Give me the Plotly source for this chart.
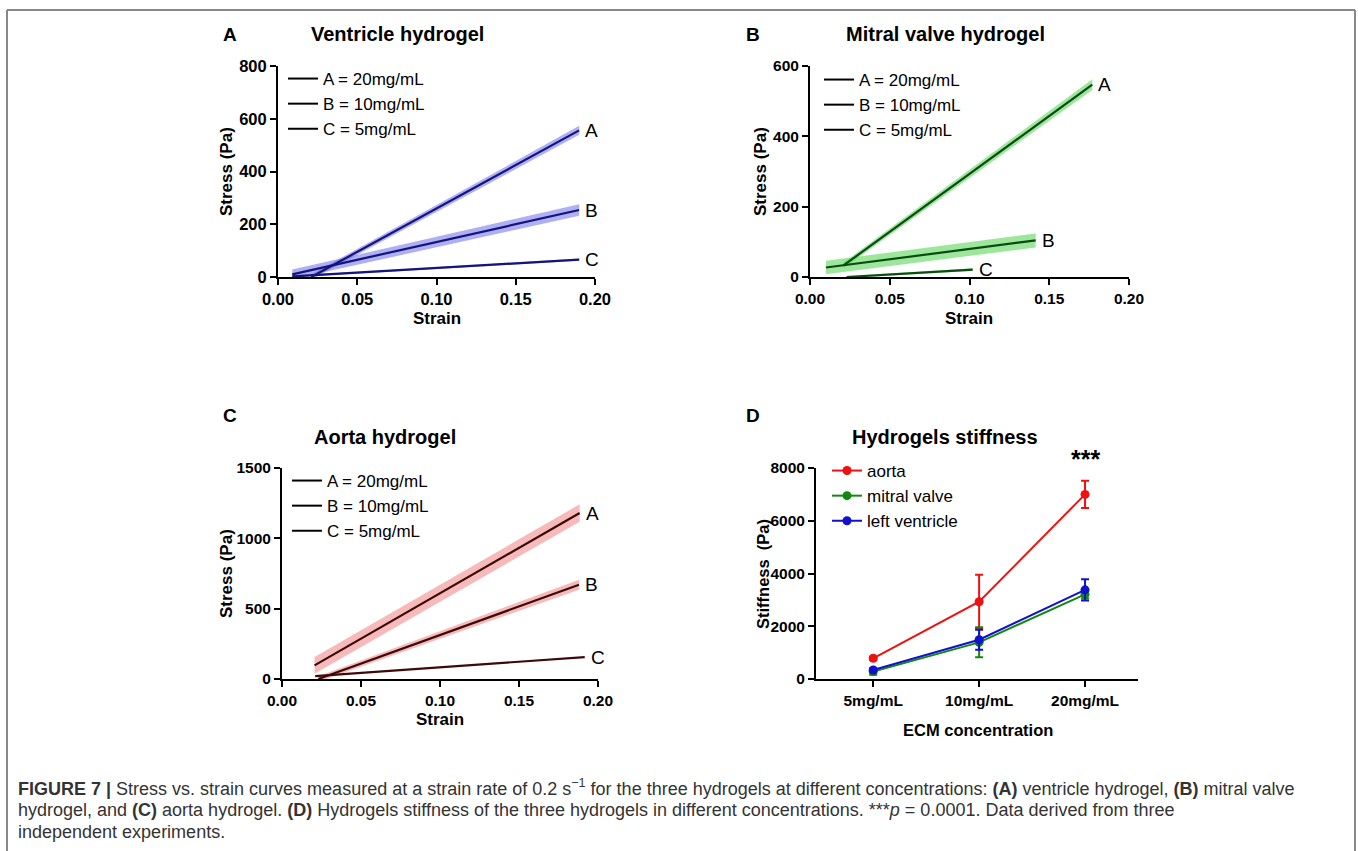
import plotly.graph_objects as go

W, H = 1358, 851


def px(x):
    return x / W


def py(y):
    return 1 - y / H


# ---------------- data ----------------
strain_tickvals = [0, 0.05, 0.10, 0.15, 0.20]
strain_ticktext = ["0.00", "0.05", "0.10", "0.15", "0.20"]
curve_ids = ["A", "B", "C"]
conc_labels = ["A = 20mg/mL", "B = 10mg/mL", "C = 5mg/mL"]

# Ventricle hydrogel (linear fits: start/end strain, start/end stress, band half-width)
vent_x0 = [0.021, 0.009, 0.009]
vent_x1 = [0.190, 0.190, 0.190]
vent_y0 = [0, 10, 2]
vent_y1 = [556, 254, 66]
vent_e0 = [10, 18, 3]
vent_e1 = [17, 22, 4]

# Mitral valve hydrogel
mitral_x0 = [0.021, 0.010, 0.023]
mitral_x1 = [0.177, 0.1415, 0.102]
mitral_y0 = [33, 27, 0]
mitral_y1 = [547, 104, 21]
mitral_e0 = [8, 19, 3]
mitral_e1 = [15, 20, 4]

# Aorta hydrogel
aorta_x0 = [0.0206, 0.023, 0.021]
aorta_x1 = [0.1884, 0.188, 0.1916]
aorta_y0 = [97, 0, 20]
aorta_y1 = [1180, 670, 156]
aorta_e0 = [59, 20, 3]
aorta_e1 = [62, 35, 4]

# Hydrogels stiffness
stiff_categories = ["5mg/mL", "10mg/mL", "20mg/mL"]
stiff_aorta = [785, 2930, 7000]
stiff_aorta_err = [60, 1020, 520]
stiff_mitral = [280, 1390, 3210]
stiff_mitral_err = [120, 570, 160]
stiff_vent = [340, 1490, 3380]
stiff_vent_err = [60, 380, 400]

FONT = "Liberation Sans, Arial, sans-serif"

fig = go.Figure()

panels = [
    dict(name="vent", xa="x", ya="y", legend="legend",
         x0=vent_x0, x1=vent_x1, y0=vent_y0, y1=vent_y1, e0=vent_e0, e1=vent_e1,
         band="rgba(110,110,235,0.55)", line="#14147a"),
    dict(name="mitral", xa="x2", ya="y2", legend="legend2",
         x0=mitral_x0, x1=mitral_x1, y0=mitral_y0, y1=mitral_y1, e0=mitral_e0, e1=mitral_e1,
         band="rgba(90,215,90,0.6)", line="#0b4a12"),
    dict(name="aorta", xa="x3", ya="y3", legend="legend3",
         x0=aorta_x0, x1=aorta_x1, y0=aorta_y0, y1=aorta_y1, e0=aorta_e0, e1=aorta_e1,
         band="rgba(240,130,130,0.55)", line="#3d0a0a"),
]

annotations = []

for p in panels:
    for i, cid in enumerate(curve_ids):
        bx = [p["x0"][i], p["x1"][i], p["x1"][i], p["x0"][i], p["x0"][i]]
        by = [p["y0"][i] + p["e0"][i], p["y1"][i] + p["e1"][i],
              p["y1"][i] - p["e1"][i], p["y0"][i] - p["e0"][i],
              p["y0"][i] + p["e0"][i]]
        fig.add_trace(go.Scatter(x=bx, y=by, fill="toself", fillcolor=p["band"],
                                 line=dict(width=0), mode="lines", showlegend=False,
                                 hoverinfo="skip", xaxis=p["xa"], yaxis=p["ya"]))
    for i, cid in enumerate(curve_ids):
        fig.add_trace(go.Scatter(x=[p["x0"][i], p["x1"][i]], y=[p["y0"][i], p["y1"][i]],
                                 mode="lines", line=dict(color=p["line"], width=2.2),
                                 showlegend=False, xaxis=p["xa"], yaxis=p["ya"]))
        annotations.append(dict(x=p["x1"][i], y=p["y1"][i], xref=p["xa"], yref=p["ya"],
                                text=cid, showarrow=False, xanchor="left", yanchor="middle",
                                xshift=4, font=dict(family=FONT, size=19, color="black")))
    # legend entries (black line samples)
    for i, lab in enumerate(conc_labels):
        fig.add_trace(go.Scatter(x=[None], y=[None], mode="lines", name=lab,
                                 line=dict(color="black", width=2),
                                 legend=p["legend"], xaxis=p["xa"], yaxis=p["ya"]))

# Panel D
stiff_x = list(range(len(stiff_categories)))
for name, vals, errs, col in [("aorta", stiff_aorta, stiff_aorta_err, "#ee1111"),
                              ("mitral valve", stiff_mitral, stiff_mitral_err, "#118811"),
                              ("left ventricle", stiff_vent, stiff_vent_err, "#1111cc")]:
    fig.add_trace(go.Scatter(x=stiff_x, y=vals, name=name, mode="lines+markers",
                             line=dict(color=col, width=2),
                             marker=dict(color=col, size=9),
                             error_y=dict(type="data", array=errs, color=col, thickness=2, width=4),
                             legend="legend4", xaxis="x4", yaxis="y4"))

# ---------------- axes ----------------
def axis(size, **kw):
    d = dict(showline=True, linecolor="black", linewidth=2, ticks="outside",
             ticklen=6, tickwidth=2, tickcolor="black", showgrid=False,
             zeroline=False, mirror=False, automargin=False,
             tickfont=dict(family=FONT, size=size, color="black", weight="bold"))
    d.update(kw)
    return d


layout_axes = {}
# A
layout_axes["xaxis"] = axis(16.5, domain=[px(278), px(595)], anchor="y", range=[0, 0.2],
                            tickvals=strain_tickvals, ticktext=strain_ticktext)
layout_axes["yaxis"] = axis(16.5, domain=[py(277), py(66)], anchor="x", range=[0, 800],
                            tickvals=[0, 200, 400, 600, 800])
# B
layout_axes["xaxis2"] = axis(15.5, domain=[px(810), px(1129)], anchor="y2", range=[0, 0.2],
                             tickvals=strain_tickvals, ticktext=strain_ticktext)
layout_axes["yaxis2"] = axis(15.5, domain=[py(277), py(66)], anchor="x2", range=[0, 600],
                             tickvals=[0, 200, 400, 600])
# C
layout_axes["xaxis3"] = axis(15.5, domain=[px(282), px(598)], anchor="y3", range=[0, 0.2],
                             tickvals=strain_tickvals, ticktext=strain_ticktext)
layout_axes["yaxis3"] = axis(15.5, domain=[py(679), py(468)], anchor="x3", range=[0, 1500],
                             tickvals=[0, 500, 1000, 1500])
# D
layout_axes["xaxis4"] = axis(15.5, domain=[px(816), px(1138)], anchor="y4", range=[-0.54, 2.5],
                             tickvals=stiff_x, ticktext=stiff_categories)
layout_axes["yaxis4"] = axis(15.5, domain=[py(679), py(468)], anchor="x4", range=[0, 8000],
                             tickvals=[0, 2000, 4000, 6000, 8000])

# ---------------- text ----------------
def txt(x, y, text, size, bold=False, xanchor="center", yanchor="middle", angle=0, color="black"):
    annotations.append(dict(x=px(x), y=py(y), xref="paper", yref="paper", text=text,
                            showarrow=False, xanchor=xanchor, yanchor=yanchor, textangle=angle,
                            font=dict(family=FONT, size=size, color=color,
                                      weight="bold" if bold else "normal")))

# panel letters
txt(230, 34, "A", 19, True)
txt(753, 34, "B", 19, True)
txt(230, 415, "C", 19, True)
txt(753, 415, "D", 19, True)
# titles
txt(397, 34, "Ventricle hydrogel", 20, True)
txt(945, 34, "Mitral valve hydrogel", 20, True)
txt(385, 437, "Aorta hydrogel", 20, True)
txt(945, 437, "Hydrogels stiffness", 20, True)
# axis titles
txt(437, 319, "Strain", 17, True)
txt(969, 319, "Strain", 17, True)
txt(440, 719, "Strain", 17, True)
txt(978, 730, "ECM concentration", 16.5, True)
txt(226, 172, "Stress (Pa)", 17, True, angle=-90)
txt(760, 172, "Stress (Pa)", 17, True, angle=-90)
txt(226, 574, "Stress (Pa)", 17, True, angle=-90)
txt(763, 574, "Stiffness  (Pa)", 16.5, True, angle=-90)

annotations.append(dict(x=2, y=7750, xref="x4", yref="y4", text="***", showarrow=False,
                        xanchor="center", yanchor="bottom",
                        font=dict(family=FONT, size=25, color="black", weight="bold")))

# caption
cap_color = "#333333"
txt(16, 787, "<b>FIGURE 7 |</b> Stress vs. strain curves measured at a strain rate of 0.2 s<sup>−1</sup> "
    "for the three hydrogels at different concentrations: <b>(A)</b> ventricle hydrogel, "
    "<b>(B)</b> mitral valve", 18, xanchor="left", color=cap_color)
txt(16, 810, "hydrogel, and <b>(C)</b> aorta hydrogel. <b>(D)</b> Hydrogels stiffness of the three "
    "hydrogels in different concentrations. ***<i>p</i> = 0.0001. Data derived from three",
    18, xanchor="left", color=cap_color)
txt(16, 832, "independent experiments.", 18, xanchor="left", color=cap_color)

# frame
shapes = [
    dict(type="line", xref="paper", yref="paper", x0=px(7), x1=px(1355), y0=py(10), y1=py(10),
         line=dict(color="#888888", width=2)),
    dict(type="line", xref="paper", yref="paper", x0=px(7), x1=px(7), y0=py(10), y1=0,
         line=dict(color="#888888", width=2)),
    dict(type="line", xref="paper", yref="paper", x0=px(1355), x1=px(1355), y0=py(10), y1=0,
         line=dict(color="#888888", width=2)),
]

legend_common = dict(bgcolor="rgba(0,0,0,0)", borderwidth=0, xanchor="left", yanchor="top",
                     itemwidth=30, tracegroupgap=0,
                     font=dict(family=FONT, size=17, color="black"))

fig.update_layout(
    width=W, height=H, autosize=False,
    margin=dict(l=0, r=0, t=0, b=0, autoexpand=False),
    paper_bgcolor="white", plot_bgcolor="white",
    showlegend=True,
    legend=dict(x=px(283), y=py(61), **legend_common),
    legend2=dict(x=px(819), y=py(62), **legend_common),
    legend3=dict(x=px(287), y=py(463), **legend_common),
    legend4=dict(x=px(827), y=py(453), **legend_common),
    annotations=annotations,
    shapes=shapes,
    **layout_axes,
)

fig.write_html("out.html", config={"displayModeBar": False},
               post_script="document.body.style.margin='0';")
